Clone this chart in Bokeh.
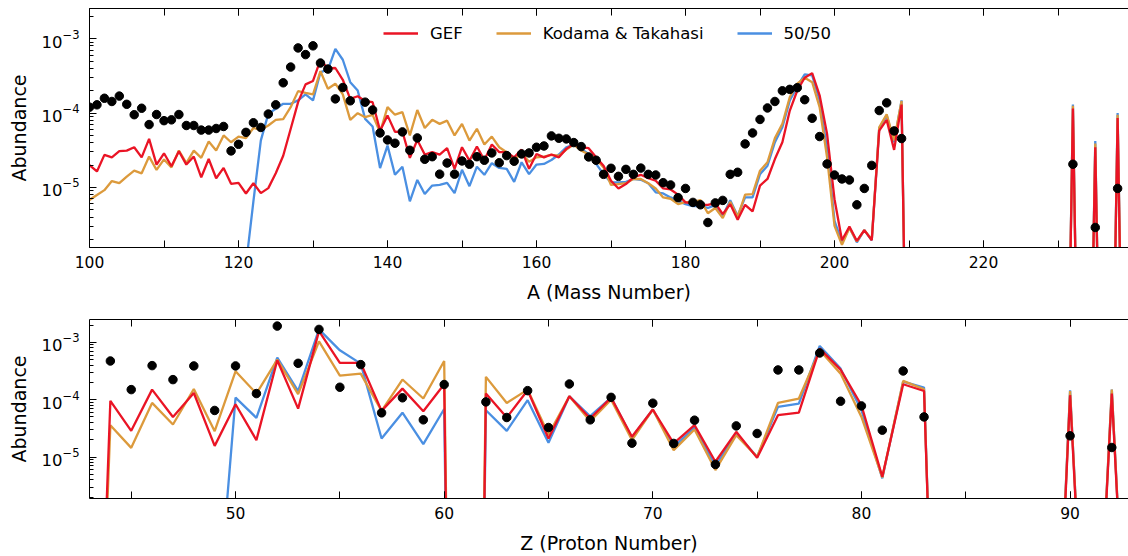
from bokeh.plotting import figure
from bokeh.layouts import column
from bokeh.models import (Legend, LegendItem, LinearAxis, SingleIntervalTicker, LogTicker,
                          CustomLabelingPolicy)
from bokeh.embed import file_html
from bokeh.resources import INLINE

# ---------------- mass-number panel ----------------
# model curves: A = 100..210, then the actinide region
A_MODEL = list(range(100, 211)) + [231, 232, 233, 234, 235, 236, 237, 238, 239]

GEF_A = [
    2.0e-5, 1.64e-5, 2.74e-5, 2.54e-5, 3.07e-5, 3.13e-5, 3.47e-5, 2.54e-5, 4.5e-5, 2.03e-5,
    2.88e-5, 1.93e-5, 3.07e-5, 2.03e-5, 2.6e-5, 1.37e-5, 2.41e-5, 1.33e-5, 1.83e-5, 1.12e-5,
    1.15e-5, 8.3e-6, 1.14e-5, 8.4e-6, 9.8e-6, 1.55e-5, 2.67e-5, 6.1e-5, 1.4e-4, 2.43e-4,
    2.7e-4, 5.2e-4, 3.97e-4, 4.03e-4, 2.8e-4, 1.55e-4, 1.68e-4, 1.45e-4, 1.4e-4, 5.8e-5,
    9.3e-5, 5.6e-5, 5.65e-5, 2.5e-5, 4.35e-5, 2.77e-5, 2.98e-5, 2.77e-5, 3.37e-5, 1.78e-5,
    3.47e-5, 2.29e-5, 3.55e-5, 2.34e-5, 3.77e-5, 2.98e-5, 2.98e-5, 2.54e-5, 3.23e-5, 1.78e-5,
    2.82e-5, 2.54e-5, 2.77e-5, 2.54e-5, 3.3e-5, 3.85e-5, 3.47e-5, 3.37e-5, 2.54e-5, 1.96e-5,
    1.23e-5, 9.7e-6, 1.11e-5, 1.37e-5, 1.48e-5, 1.33e-5, 1.23e-5, 9.7e-6, 9.4e-6, 8.0e-6,
    6.3e-6, 6.1e-6, 5.85e-6, 5.85e-6, 6.15e-6, 4.38e-6, 5.97e-6, 3.67e-6, 5.85e-6, 4.76e-6,
    1.06e-5, 1.3e-5, 2.41e-5, 4.05e-5, 1.08e-4, 2.01e-4, 2.98e-4, 3.44e-4, 1.73e-4, 5.25e-5,
    6.95e-6, 1.95e-6, 2.98e-6, 1.91e-6, 2.67e-6, 1.95e-6, 5.8e-5, 8.1e-5, 3.2e-5, 1.3e-4,
    1e-10,
    1e-10, 1.15e-4, 1e-10, 1e-10, 3.47e-5, 1e-10, 1e-10, 8.6e-5, 1e-10,
]

KT_A = [
    6.8e-6, 7.9e-6, 9.2e-6, 1.22e-5, 1.14e-5, 1.4e-5, 1.68e-5, 1.55e-5, 2.6e-5, 1.72e-5,
    2.38e-5, 1.86e-5, 3.13e-5, 2.12e-5, 3.13e-5, 2.5e-5, 4.15e-5, 3.13e-5, 5.0e-5, 4.05e-5,
    4.83e-5, 4.6e-5, 6.3e-5, 5.95e-5, 6.8e-5, 8.1e-5, 8.3e-5, 1.2e-4, 1.97e-4, 1.86e-4,
    1.78e-4, 3.65e-4, 2.12e-4, 2.48e-4, 1.78e-4, 8.1e-5, 9.95e-5, 8.8e-5, 9.45e-5, 5.5e-5,
    1.2e-4, 9.5e-5, 1.03e-4, 5.0e-5, 1.1e-4, 6.3e-5, 8.1e-5, 7.15e-5, 7.9e-5, 5.0e-5,
    7.15e-5, 4.27e-5, 6.15e-5, 3.77e-5, 4.83e-5, 3.47e-5, 2.98e-5, 2.34e-5, 2.88e-5, 2.22e-5,
    2.54e-5, 2.6e-5, 2.74e-5, 2.68e-5, 3.23e-5, 3.77e-5, 3.13e-5, 2.77e-5, 2.41e-5, 1.86e-5,
    1.08e-5, 1.11e-5, 1.14e-5, 1.3e-5, 1.3e-5, 1.14e-5, 9.7e-6, 7.35e-6, 7.05e-6, 5.97e-6,
    6.35e-6, 6.4e-6, 6.75e-6, 4.5e-6, 5.3e-6, 3.87e-6, 6.4e-6, 4.03e-6, 8.0e-6, 8.15e-6,
    1.68e-5, 2.18e-5, 4.6e-5, 7.15e-5, 1.64e-4, 2.48e-4, 2.98e-4, 2.6e-4, 1.2e-4, 2.54e-5,
    3.05e-6, 1.7e-6, 2.85e-6, 1.88e-6, 2.67e-6, 2.0e-6, 6.45e-5, 9.6e-5, 4.27e-5, 1.45e-4,
    1e-10,
    1e-10, 1.25e-4, 1e-10, 1e-10, 3.9e-5, 1e-10, 1e-10, 9.5e-5, 1e-10,
]

FIFTY_A = [
    1e-9, 1e-9, 1e-9, 1e-9, 1e-9, 1e-9, 1e-9, 1e-9, 1e-9, 1e-9,
    1e-9, 1e-9, 1e-9, 1e-9, 1e-9, 1e-9, 1e-9, 1e-9, 1e-9, 1e-9,
    1e-9, 9e-7, 6.5e-6, 4.3e-5, 9.75e-5, 1.14e-4, 1.33e-4, 1.33e-4, 1.48e-4, 1.78e-4,
    1.48e-4, 3.55e-4, 3.8e-4, 7.3e-4, 5.2e-4, 2.6e-4, 2.01e-4, 8.35e-5, 6.6e-5, 1.82e-5,
    3.65e-5, 1.48e-5, 1.9e-5, 6.5e-6, 1.26e-5, 8.15e-6, 1.06e-5, 1.08e-5, 1.15e-5, 8.4e-6,
    1.73e-5, 1.04e-5, 1.9e-5, 1.48e-5, 2.12e-5, 1.83e-5, 1.78e-5, 1.19e-5, 2.18e-5, 1.51e-5,
    2.03e-5, 2.07e-5, 2.34e-5, 2.77e-5, 3.47e-5, 3.77e-5, 3.3e-5, 2.82e-5, 2.07e-5, 1.51e-5,
    1.17e-5, 1.17e-5, 1.19e-5, 1.3e-5, 1.27e-5, 1.14e-5, 8.6e-6, 8.3e-6, 7.35e-6, 6.6e-6,
    5.97e-6, 5.6e-6, 5.6e-6, 5.3e-6, 5.8e-6, 4.15e-6, 6.75e-6, 4.15e-6, 7.35e-6, 7.35e-6,
    1.51e-5, 1.96e-5, 4.05e-5, 6.45e-5, 1.48e-4, 2.28e-4, 3.3e-4, 3.2e-4, 1.48e-4, 3.3e-5,
    3.56e-6, 1.83e-6, 2.9e-6, 1.83e-6, 2.67e-6, 1.95e-6, 6.25e-5, 9.3e-5, 4.05e-5, 1.48e-4,
    1e-10,
    1e-10, 1.3e-4, 1e-10, 1e-10, 4.2e-5, 1e-10, 1e-10, 1.0e-4, 1e-10,
]

# solar r-process residuals (no point at A = 136)
A_SOLAR = list(range(100, 136)) + list(range(137, 210)) + [232, 235, 238]
SOLAR_A = [
    1.2e-4, 1.29e-4, 1.58e-4, 1.43e-4, 1.69e-4, 1.31e-4, 9.5e-5, 1.16e-4, 7.0e-5, 9.55e-5,
    7.9e-5, 8.1e-5, 9.55e-5, 6.8e-5, 6.8e-5, 5.9e-5, 5.9e-5, 6.2e-5, 6.6e-5, 3.1e-5,
    3.8e-5, 5.5e-5, 7.4e-5, 6.4e-5, 9.7e-5, 1.29e-4, 2.55e-4, 4.15e-4, 7.5e-4, 6.1e-4,
    8.0e-4, 4.7e-4, 3.9e-4, 1.55e-4, 2.2e-4, 1.46e-4,
    1.4e-4, 1.1e-4, 5.4e-5,
    4.35e-5, 3.93e-5, 5.58e-5, 3.16e-5, 4.63e-5, 2.39e-5, 2.59e-5, 1.51e-5, 2.13e-5, 1.51e-5,
    2.27e-5, 2.05e-5, 2.59e-5, 2.32e-5, 2.91e-5, 2.15e-5, 2.68e-5, 2.25e-5, 2.82e-5, 2.91e-5,
    3.47e-5, 3.61e-5, 4.93e-5, 4.58e-5, 4.49e-5, 4.01e-5, 3.54e-5, 2.57e-5, 2.32e-5, 1.5e-5,
    1.81e-5, 1.41e-5, 1.75e-5, 1.5e-5, 1.82e-5, 1.5e-5, 1.47e-5, 1.16e-5, 1.08e-5, 7.3e-6,
    9.7e-6, 6.3e-6, 5.85e-6, 3.38e-6, 6.2e-6, 6.7e-6, 1.5e-5, 1.6e-5, 3.85e-5, 5.4e-5,
    8.2e-5, 1.17e-4, 1.43e-4, 1.99e-4, 2.08e-4, 2.19e-4, 1.51e-4, 8.5e-5, 4.83e-5, 2.07e-5,
    1.47e-5, 1.3e-5, 1.26e-5, 5.85e-6, 9.7e-6, 1.98e-5, 1.08e-4, 1.37e-4, 5.75e-5, 4.54e-5,
    2.05e-5, 2.9e-6, 9.7e-6,
]

# ---------------- proton-number panel ----------------
Z_MODEL = list(range(43, 85)) + [89, 90, 91, 92, 93]

GEF_Z = [
    1e-14, 9.55e-5, 2.87e-5, 1.5e-4, 5.0e-5, 1.31e-4, 1.57e-5, 8.35e-5, 1.98e-5, 4.86e-4,
    7.0e-5, 1.57e-3, 4.37e-4, 4.37e-4, 6.4e-5, 1.56e-4, 6.3e-5, 1.86e-4, 1e-30, 1.28e-4,
    4.9e-5, 1.46e-4, 2.11e-5, 1.15e-4, 4.7e-5, 1.09e-4, 2.26e-5, 6.75e-5, 1.73e-5, 3.6e-5,
    8.3e-6, 2.76e-5, 9.7e-6, 5.37e-5, 5.98e-5, 7.76e-4, 3.35e-4, 8.0e-5, 4.55e-6, 1.86e-4,
    1.42e-4, 1e-15,
    1e-12, 1.2e-4, 1e-11, 1.28e-4, 1e-11,
]

KT_Z = [
    1e-14, 3.6e-5, 1.45e-5, 8.8e-5, 3.7e-5, 1.54e-4, 2.83e-5, 3.13e-4, 1.28e-4, 5.0e-4,
    1.25e-4, 1.04e-3, 2.63e-4, 2.85e-4, 6.4e-5, 2.25e-4, 1.05e-4, 4.73e-4, 1e-30, 2.5e-4,
    8.8e-5, 1.5e-4, 2.48e-5, 1.15e-4, 4.23e-5, 1.0e-4, 1.98e-5, 6.75e-5, 1.32e-5, 3.03e-5,
    5.94e-6, 2.41e-5, 1.01e-5, 8.8e-5, 1.05e-4, 7.26e-4, 2.85e-4, 5.02e-5, 4.43e-6, 2.13e-4,
    1.52e-4, 1e-15,
    1e-12, 1.41e-4, 1e-11, 1.5e-4, 1e-11,
]

FIFTY_Z = [
    1e-14, 1e-12, 1e-12, 1e-12, 1e-12, 1e-12, 4e-9, 1.09e-4, 4.83e-5, 5.41e-4,
    1.41e-4, 1.68e-3, 7.26e-4, 4.26e-4, 2.11e-5, 5.95e-5, 1.68e-5, 6.9e-5, 1e-30, 6.56e-5,
    2.87e-5, 9.8e-5, 1.78e-5, 1.15e-4, 5.16e-5, 1.09e-4, 2.2e-5, 6.75e-5, 1.51e-5, 3.28e-5,
    6.97e-6, 2.58e-5, 1.01e-5, 7.5e-5, 8.57e-5, 8.63e-4, 3.48e-4, 6.56e-5, 4.26e-6, 2.07e-4,
    1.63e-4, 1e-15,
    1e-12, 1.46e-4, 1e-11, 1.5e-4, 1e-11,
]

# solar r-process elemental abundances (none for Z = 61)
Z_SOLAR = list(range(44, 61)) + list(range(62, 84)) + [90, 92]
SOLAR_Z = [
    4.73e-4, 1.5e-4, 3.93e-4, 2.24e-4, 3.88e-4, 6.5e-5, 3.88e-4, 1.28e-4, 1.92e-3, 4.31e-4,
    1.68e-3, 1.65e-4, 4.09e-4, 5.9e-5, 1.08e-4, 4.46e-5, 1.84e-4,
    9.17e-5, 4.9e-5, 1.44e-4, 3.28e-5, 1.88e-4, 4.46e-5, 1.1e-4, 1.75e-5, 8.7e-5, 1.73e-5,
    4.4e-5, 7.45e-6, 3.5e-5, 2.58e-5, 3.3e-4, 3.3e-4, 6.52e-4, 9.42e-5, 7.8e-5, 2.95e-5,
    3.17e-4, 5.02e-5,
    2.35e-5, 1.47e-5,
]

SERIES = ["GEF", "Kodama & Takahasi", "50/50"]
COLORS = {"GEF": "#ea1425", "Kodama & Takahasi": "#dc9a3c", "50/50": "#4a8fe2"}

FONT = "DejaVu Sans"
W = 1128

# the upper spine carries tick marks only, so every label on it is dropped
NO_LABELS = CustomLabelingPolicy(
    code="for (const i of [...indices]) { indices.unset(i) }\nreturn indices")


def make_panel(height, border_top, border_bottom, border_left, x_range, y_range,
               interval, xlabel):
    p = figure(width=W, height=height, x_range=x_range, y_range=y_range,
               y_axis_type="log", output_backend="svg", toolbar_location=None,
               min_border_left=border_left, min_border_right=0,
               min_border_top=border_top, min_border_bottom=border_bottom)
    p.outline_line_color = None
    p.xgrid.visible = False
    p.ygrid.visible = False
    p.background_fill_color = "white"
    p.border_fill_color = "white"

    xa = p.xaxis[0]
    xa.ticker = SingleIntervalTicker(interval=interval, num_minor_ticks=2)
    xa.axis_label = xlabel
    xa.axis_label_text_font = FONT
    xa.axis_label_text_font_size = "19px"
    xa.axis_label_text_font_style = "normal"
    xa.axis_label_text_color = "black"
    xa.axis_label_standoff = 10
    xa.major_label_text_font = FONT
    xa.major_label_text_font_size = "15.5px"
    xa.major_label_text_color = "black"
    xa.major_label_standoff = 8
    xa.axis_line_color = "black"
    xa.major_tick_line_color = "black"
    xa.minor_tick_line_color = "black"
    xa.major_tick_in = 7
    xa.major_tick_out = 0
    xa.minor_tick_in = 7
    xa.minor_tick_out = 0

    top = LinearAxis(ticker=SingleIntervalTicker(interval=interval, num_minor_ticks=2),
                     major_label_policy=NO_LABELS,
                     major_label_text_font_size="0px", major_label_standoff=0,
                     axis_line_color="black", major_tick_line_color="black",
                     minor_tick_line_color="black", major_tick_in=7, major_tick_out=0,
                     minor_tick_in=7, minor_tick_out=0)
    p.add_layout(top, "above")

    ya = p.yaxis[0]
    ya.ticker = LogTicker(num_minor_ticks=10)
    ya.axis_label = "Abundance"
    ya.axis_label_text_font = FONT
    ya.axis_label_text_font_size = "19px"
    ya.axis_label_text_font_style = "normal"
    ya.axis_label_text_color = "black"
    ya.axis_label_standoff = 8
    ya.major_label_text_font = FONT
    ya.major_label_text_font_size = "16.5px"
    ya.major_label_text_color = "black"
    ya.major_label_standoff = 10
    ya.axis_line_color = "black"
    ya.major_tick_line_color = "black"
    ya.minor_tick_line_color = "black"
    ya.major_tick_in = 7
    ya.major_tick_out = 0
    ya.minor_tick_in = 4
    ya.minor_tick_out = 0
    return p


def draw(p, xs, model, xs_solar, solar):
    rends = {}
    for name in ["50/50", "Kodama & Takahasi", "GEF"]:
        rends[name] = p.line(xs, model[name], line_color=COLORS[name], line_width=2.3)
    p.scatter(xs_solar, solar, size=8.5, fill_color="black", line_color="black")
    return rends


# top panel: abundance versus mass number
p1 = make_panel(310, 8, 63, 89, (100, 239.46), (1.56e-6, 2.54e-3), 20, "A (Mass Number)")
r1 = draw(p1, A_MODEL, {"GEF": GEF_A, "Kodama & Takahasi": KT_A, "50/50": FIFTY_A},
          A_SOLAR, SOLAR_A)
legend = Legend(items=[LegendItem(label=n, renderers=[r1[n]]) for n in SERIES],
                orientation="horizontal", location=(294, 204),
                border_line_color=None, background_fill_alpha=0,
                padding=0, margin=0, spacing=33, label_standoff=12,
                glyph_width=35, glyph_height=20, label_height=20,
                label_text_font=FONT, label_text_font_size="16.5px",
                label_text_color="black")
p1.add_layout(legend)

# bottom panel: abundance versus proton number
p2 = make_panel(246, 9, 57, 88, (43, 92.8), (1.9e-6, 2.5e-3), 10, "Z (Proton Number)")
draw(p2, Z_MODEL, {"GEF": GEF_Z, "Kodama & Takahasi": KT_Z, "50/50": FIFTY_Z},
     Z_SOLAR, SOLAR_Z)

layout = column(p1, p2, spacing=0)
open("out.html", "w").write(file_html(layout, INLINE))
